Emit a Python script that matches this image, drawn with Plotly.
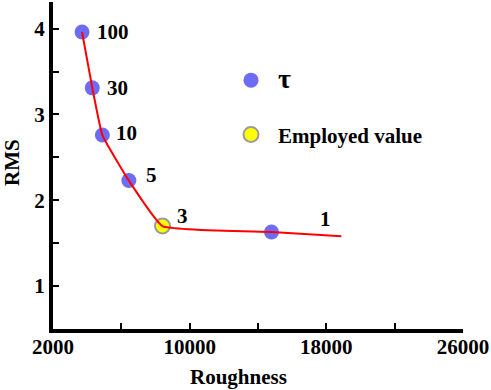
import plotly.graph_objects as go

# ---- data ----
tau = [100, 30, 10, 5, 3, 1]
roughness = [3700, 4300, 4890, 6440, 8410, 14790]
rms = [3.96, 3.31, 2.76, 2.23, 1.70, 1.63]
employed_tau = 3
fit_end_roughness = 18880
fit_end_rms = 1.58

x_ticks = [2000, 10000, 18000, 26000]
y_ticks = [1, 2, 3, 4]

# ---- styles ----
FONT = "Liberation Serif"
FS = 21
blue = "rgba(100,100,245,0.95)"
# label offsets (px) per tau value: (xshift, yshift)
label_offsets = {100: (13, 0), 30: (13, 0), 10: (12, 2), 5: (15, 6), 3: (12, 10), 1: (46, 13)}

L, R, T, B, W, H = 53, 28, 2, 61, 491, 390
PW, PH = W - L - R, H - T - B

blue_x = [x for x, t in zip(roughness, tau) if t != employed_tau]
blue_y = [y for y, t in zip(rms, tau) if t != employed_tau]
emp_x = [x for x, t in zip(roughness, tau) if t == employed_tau]
emp_y = [y for y, t in zip(rms, tau) if t == employed_tau]

fig = go.Figure()
fig.add_trace(go.Scatter(
    x=blue_x, y=blue_y, mode="markers",
    name="<span style='font-size:28px'>τ</span>", legendgroup="a",
    marker=dict(color=blue, size=15, line=dict(width=0)),
))
fig.add_trace(go.Scatter(
    x=emp_x, y=emp_y, mode="markers", name="Employed value", legendgroup="b",
    marker=dict(color="#ffff00", size=15, line=dict(color="#9a9a9a", width=2)),
))
fig.add_trace(go.Scatter(
    x=roughness + [fit_end_roughness], y=rms + [fit_end_rms], mode="lines",
    line=dict(color="red", width=2, shape="spline", smoothing=0.35),
    showlegend=False, hoverinfo="skip",
))

bold = dict(family=FONT, size=FS, color="black", weight="bold")

for t, x, y in zip(tau, roughness, rms):
    dx, dy = label_offsets[t]
    fig.add_annotation(x=x, y=y, text=str(t), showarrow=False, xanchor="left",
                       yanchor="middle", xshift=dx, yshift=dy, font=bold)

fig.add_annotation(xref="paper", yref="paper", x=(238 - L) / PW, y=-(377 - (T + PH)) / PH,
                   xanchor="center", yanchor="middle",
                   text="Roughness", showarrow=False, font=bold)
fig.add_annotation(xref="paper", yref="paper", x=-(L - 12) / PW, y=(T + PH - 163) / PH,
                   xanchor="center", yanchor="middle",
                   text="RMS", showarrow=False, textangle=-90, font=bold)

axis_common = dict(
    showline=True, linecolor="black", linewidth=4, mirror=False,
    ticks="inside", ticklen=6, tickwidth=2, tickcolor="black",
    showgrid=False, zeroline=False, tickfont=bold,
)

fig.update_xaxes(range=[2000, 26000], tickvals=x_ticks,
                 ticktext=[str(v) for v in x_ticks], ticklabelstandoff=-4,
                 minor=dict(dtick=4000, tick0=2000, ticks="inside", ticklen=6,
                            tickwidth=2, tickcolor="black"),
                 **axis_common)
fig.update_yaxes(range=[0.5, 4.31], tickvals=y_ticks,
                 ticktext=[str(v) for v in y_ticks],
                 minor=dict(dtick=0.5, tick0=0.5, ticks="inside", ticklen=6,
                            tickwidth=2, tickcolor="black"),
                 **axis_common)

fig.update_layout(
    width=W, height=H,
    margin=dict(l=L, r=R, t=T, b=B),
    plot_bgcolor="white", paper_bgcolor="white",
    font=dict(family=FONT, size=FS, color="black"),
    legend=dict(x=(224 - L) / PW, y=(T + PH - 60) / PH, xanchor="left", yanchor="top",
                bgcolor="rgba(0,0,0,0)", itemwidth=44, tracegroupgap=24,
                font=bold),
)

fig.write_html("out.html", config={"displayModeBar": False},
               post_script="document.body.style.margin='0';")
